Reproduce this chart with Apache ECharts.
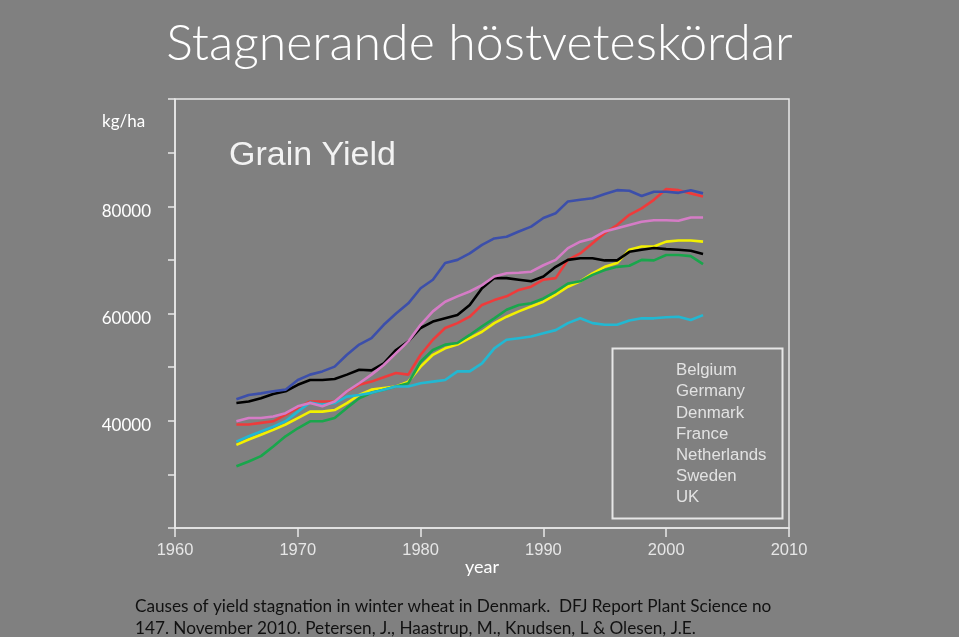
<!DOCTYPE html>
<html>
<head>
<meta charset="utf-8">
<script src="https://cdn.jsdelivr.net/npm/echarts@6/dist/echarts.min.js"></script>
<style>
html,body{margin:0;padding:0;background:#808080;}
#c{width:959px;height:637px;}
</style>
</head>
<body>
<div id="c"></div>
<script>
const years = [1965,1966,1967,1968,1969,1970,1971,1972,1973,1974,1975,1976,1977,1978,1979,1980,1981,1982,1983,1984,1985,1986,1987,1988,1989,1990,1991,1992,1993,1994,1995,1996,1997,1998,1999,2000,2001,2002,2003];
const countries = ["Belgium","Germany","Denmark","France","Netherlands","Sweden","UK"];
const belgium = [39300,39300,39600,39900,41100,42400,43600,43600,43600,45500,46700,47300,48100,48900,48600,52300,55100,57300,58200,59400,61600,62500,63200,64400,65000,66300,66600,70000,71200,73100,75000,76500,78400,79600,81200,83200,83000,82400,81800];
const germany = [35500,36500,37400,38300,39300,40500,41700,41700,42000,43300,44800,45800,46100,46400,47300,50100,52300,53500,54200,55400,56600,58200,59400,60400,61300,62200,63500,65000,66000,67500,68700,69400,71900,72500,72500,73400,73600,73600,73400];
const denmark = [43300,43600,44200,45000,45500,46700,47600,47600,47800,48600,49500,49400,50700,53200,54800,57300,58500,59100,59700,61600,64700,66600,66600,66300,66000,66900,68700,70000,70300,70300,69900,69900,71500,71900,72200,72000,71900,71700,71100];
const france = [31500,32400,33400,35200,37100,38600,39900,39900,40500,42400,44200,45200,45800,46400,47000,51000,53200,54200,54500,56000,57600,59100,60700,61600,61900,62800,64100,65600,66000,67200,68100,68700,68900,70000,69900,70900,70900,70700,69200];
const netherlands = [44000,44800,45100,45500,45800,47600,48600,49200,50100,52300,54200,55400,57900,60000,61900,64700,66300,69400,70000,71200,72800,74000,74300,75300,76200,77800,78700,80900,81200,81500,82300,83000,82900,81900,82700,82700,82500,83000,82400];
const sweden = [36100,37100,38000,38900,39900,41700,43400,43000,43300,44500,44800,45200,45800,46400,46400,47000,47300,47600,49200,49200,50700,53500,55100,55400,55700,56300,56900,58200,59100,58200,57900,57900,58700,59100,59100,59300,59400,58800,59700];
const uk = [39900,40500,40500,40800,41400,42700,43300,42700,43600,45500,47000,48600,50400,52600,54800,57900,60400,62200,63200,64100,65300,66900,67500,67600,67800,69000,70000,72200,73400,74000,75300,75900,76500,77100,77400,77400,77300,77900,77900];
const yLabels = [40000,60000,80000];
const xTicks = [1960,1970,1980,1990,2000,2010];

const seriesValues = [belgium, germany, denmark, france, netherlands, sweden, uk];
const colors = ["#ee3b3b","#f2f000","#000000","#19a64c","#3c4faa","#22b8d2","#d57cc6"];

const chart = echarts.init(document.getElementById('c'));
chart.setOption({
  backgroundColor: '#808080',
  animation: false,
  title: [
    {
      text: 'Stagnerande höstveteskördar',
      left: 'center', top: 14,
      textStyle: {color: '#ffffff', fontSize: 50, fontWeight: 300, fontFamily: 'Lato'}
    },
    {
      text: 'Causes of yield stagnation in winter wheat in Denmark.  DFJ Report Plant Science no\n147. November 2010. Petersen, J., Haastrup, M., Knudsen, L & Olesen, J.E.',
      left: 130, top: 590,
      textStyle: {color: '#111111', fontSize: 17.2, fontWeight: 'normal', fontFamily: 'Lato', lineHeight: 22}
    }
  ],
  grid: {left: 175, right: 170, top: 99, bottom: 109, show: true, borderColor: '#e8e8e8', borderWidth: 1.5, backgroundColor: 'transparent'},
  legend: {
    orient: 'vertical',
    left: 666, top: 357,
    icon: 'none',
    itemWidth: 0, itemHeight: 14, itemGap: 4.2,
    data: countries,
    selectedMode: false,
    textStyle: {color: '#e2e2e2', fontSize: 16.8, fontFamily: 'Liberation Sans'}
  },
  xAxis: {
    type: 'value', min: 1960, max: 2010, interval: 10,
    name: 'year', nameLocation: 'middle', nameGap: 30, nameMoveOverlap: false,
    nameTextStyle: {color: '#ffffff', fontSize: 18, fontFamily: 'Lato'},
    axisLine: {show: true, lineStyle: {color: '#e8e8e8', width: 1.5}},
    axisTick: {show: true, inside: false, length: 9, lineStyle: {color: '#e8e8e8', width: 1.5}},
    axisLabel: {color: '#e6e6e6', fontSize: 16.5, fontFamily: 'Liberation Sans', margin: 14,
      formatter: v => xTicks.includes(v) ? String(v) : ''},
    splitLine: {show: false}
  },
  yAxis: {
    type: 'value', min: 20000, max: 100000, interval: 10000,
    axisLine: {show: true, lineStyle: {color: '#e8e8e8', width: 1.5}},
    axisTick: {show: true, inside: false, length: 7, lineStyle: {color: '#e8e8e8', width: 1.5}},
    axisLabel: {color: '#ffffff', fontSize: 17, fontFamily: 'Lato', margin: 24, verticalAlign: 'top', lineHeight: 10,
      formatter: v => yLabels.includes(v) ? String(v) : ''},
    splitLine: {show: false}
  },
  graphic: [
    {type: 'text', left: 102, top: 113, style: {text: 'kg/ha', fill: '#ffffff', font: '17px Lato'}},
    {type: 'text', left: 229, top: 139, style: {text: 'Grain Yield', fill: '#f2f2f2', font: '34px "Liberation Sans"'}},
    {type: 'rect', left: 610, top: 346, shape: {width: 170, height: 170}, style: {fill: 'none', stroke: '#e6e6e6', lineWidth: 2}}
  ],
  series: countries.map((name, i) => ({
    name: name,
    type: 'line',
    showSymbol: false,
    symbol: 'none',
    color: colors[i],
    lineStyle: {width: 2.6, color: colors[i]},
    data: years.map((y, j) => [y, seriesValues[i][j]])
  }))
});
</script>
</body>
</html>
